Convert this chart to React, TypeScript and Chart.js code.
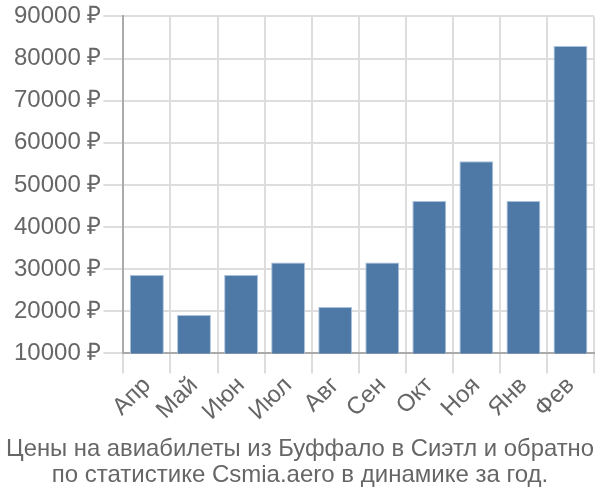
import React, { useEffect, useRef } from "react";
import { Chart, registerables } from "chart.js";

Chart.register(...registerables);

const categories = ["Апр", "Май", "Июн", "Июл", "Авг", "Сен", "Окт", "Ноя", "Янв", "Фев"];
const prices = [28600, 19100, 28600, 31600, 21000, 31600, 46200, 55600, 46200, 83000];
const titleLines = [
  "Цены на авиабилеты из Буффало в Сиэтл и обратно",
  "по статистике Csmia.aero в динамике за год.",
];
const currency = "₽";

export default function App() {
  const ref = useRef<HTMLCanvasElement>(null);
  useEffect(() => {
    document.body.style.margin = "0";
    const ctx = ref.current!;
    const font = "'Liberation Sans', Arial, sans-serif";
    const chart = new Chart(ctx, {
      type: "bar",
      data: {
        labels: categories,
        datasets: [
          {
            data: prices,
            backgroundColor: "#4e79a7",
            borderColor: "#a9c1da",
            borderWidth: 1,
          },
        ],
      },
      options: {
        animation: false,
        responsive: false,
        maintainAspectRatio: false,
        layout: { padding: { top: 0, right: 6, left: 6, bottom: 11 } },
        plugins: {
          legend: { display: false },
          tooltip: { enabled: false },
          title: {
            display: true,
            position: "bottom",
            text: titleLines,
            color: "#666",
            font: { family: font, size: 24, weight: "normal", lineHeight: 1.1 },
            padding: { top: 0, bottom: 0 },
          },
        },
        scales: {
          x: {
            grid: { color: "#ddd", tickLength: 20, lineWidth: 2 },
            border: { color: "#aaa", width: 2 },
            ticks: {
              color: "#666",
              font: { family: font, size: 24 },
              maxRotation: 45,
              minRotation: 45,
              padding: -2,
            },
            afterFit: (scale: any) => {
              scale.height = scale.height + 12;
            },
          },
          y: {
            min: 10000,
            max: 90000,
            grid: { color: "#ddd", tickLength: 20, lineWidth: 2 },
            border: { color: "#aaa", width: 2 },
            ticks: {
              stepSize: 10000,
              color: "#666",
              font: { family: font, size: 24 },
              padding: 2,
              callback: (v: any) => `${v} ${currency}`,
            },
            afterFit: (scale: any) => {
              scale.width = scale.width + 6;
            },
          },
        },
      },
    });
    return () => chart.destroy();
  }, []);
  return <canvas ref={ref} width={600} height={500} style={{ display: "block" }} />;
}
